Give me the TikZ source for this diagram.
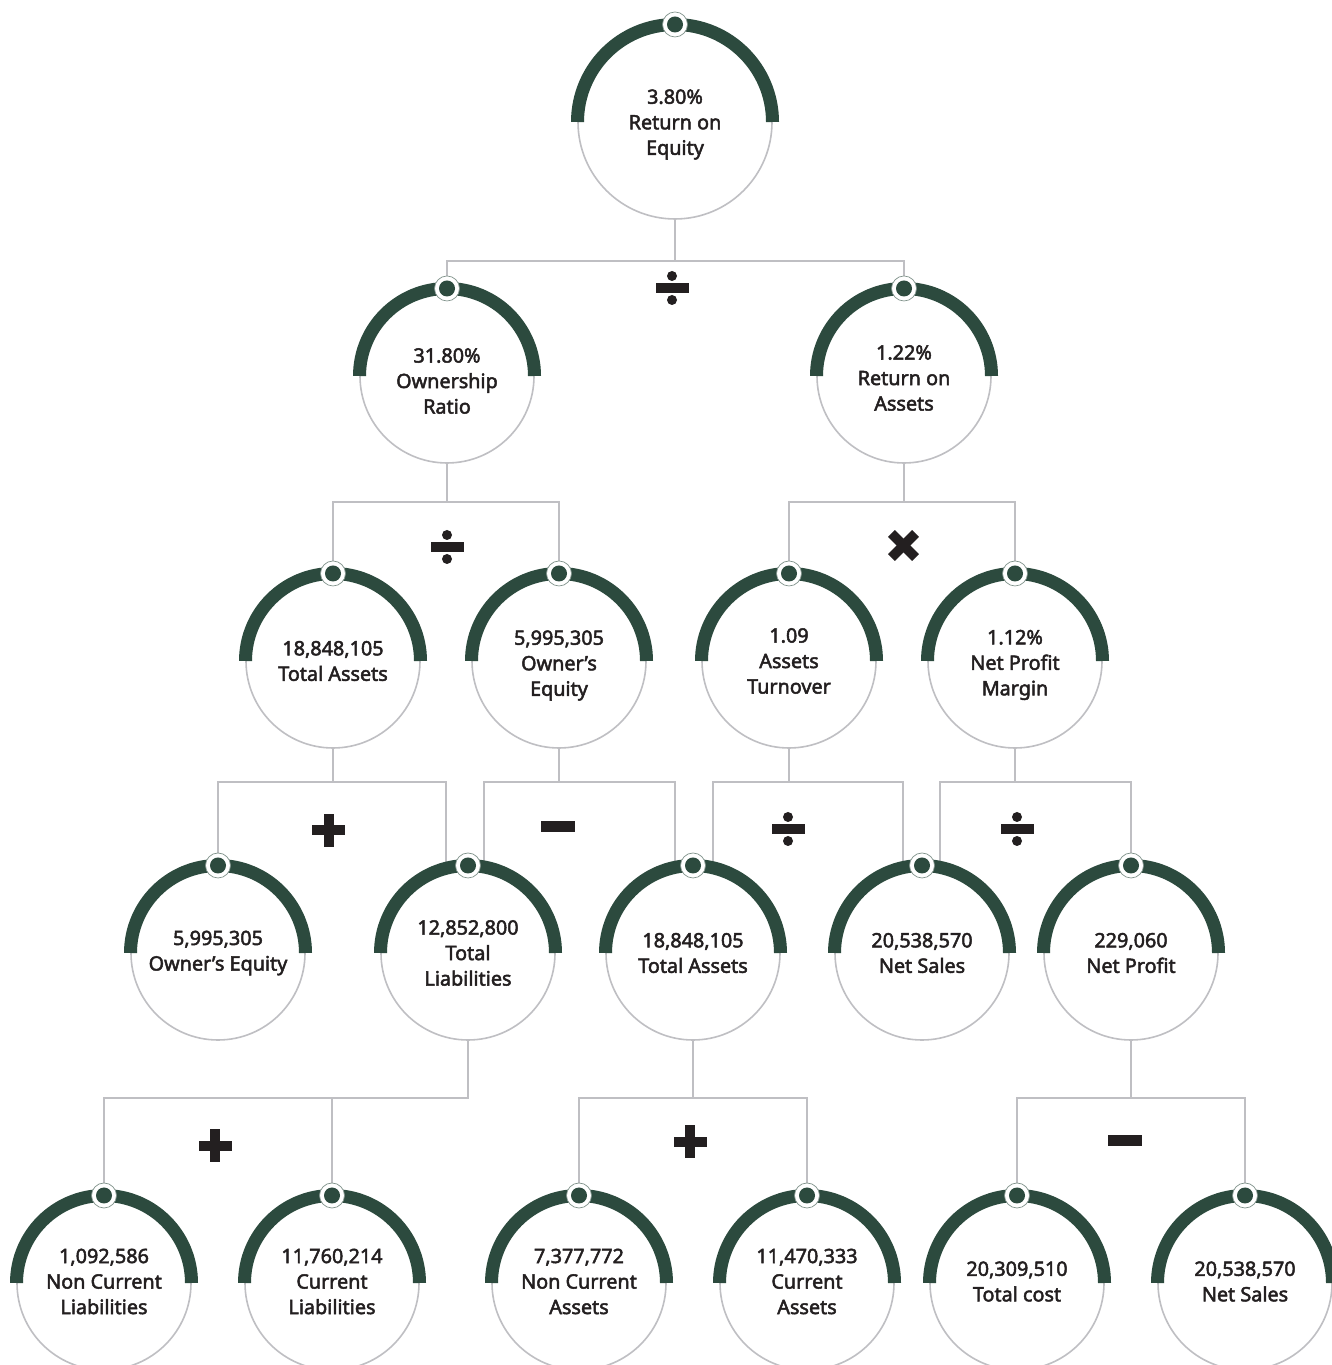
\documentclass[tikz,border=0pt]{standalone}
\usepackage{fontspec}
\newfontfamily\lbl{Noto Sans}[FakeBold=2.4]
\usetikzlibrary{backgrounds}
\pgfdeclarelayer{bg}
\pgfsetlayers{bg,background,main}
\definecolor{dgreen}{HTML}{2C4A3E}
\definecolor{lgray}{HTML}{BFBFC3}
\definecolor{txt}{HTML}{231F20}
\tikzset{
  kpinode/.style={circle, draw=lgray, line width=1.6pt, fill=white, inner sep=0pt},
  kpitext/.style={inner sep=0pt, align=center, text=txt, font=\lbl\fontsize{19.8}{25.5}\selectfont},
  arcsty/.style={draw=dgreen, line width=13pt},
  conn/.style={draw=lgray, line width=2pt},
  opfill/.style={fill=txt},
}
% name, x, y(image), radius, text, text offset (down, px)
\newcommand\kpi[6]{%
  \node[kpinode, minimum size=2*#4] (#1) at ({#2},{1365-#3}) {};
  \node[kpitext] (#1t) at ({#2},{1365-#3-#6}) {#5};
  \draw[arcsty] (#1.center) ++(180:{#4+0.5}) arc[start angle=180, end angle=0, radius={#4+0.5}];
  \filldraw[fill=white, draw=dgreen!60, line width=0.7pt] (#1.center) ++(0,{#4+0.5}) circle[radius=12.5];
  \fill[dgreen] (#1.center) ++(0,{#4+0.5}) circle[radius=8];
}
\newcommand\opdiv[2]{%
  \begin{scope}[shift={({#1},{1365-#2})}]
    \fill[opfill] (-16.5,-5) rectangle (16.5,5);
    \fill[opfill] (0,12) circle[radius=5];
    \fill[opfill] (0,-12) circle[radius=5];
  \end{scope}}
\newcommand\opminus[2]{%
  \begin{scope}[shift={({#1},{1365-#2})}]
    \fill[opfill] (-17,-5.5) rectangle (17,5.5);
  \end{scope}}
\newcommand\opplus[2]{%
  \begin{scope}[shift={({#1},{1365-#2})}]
    \fill[opfill] (-16.5,-5) rectangle (16.5,5);
    \fill[opfill] (-5,-16.5) rectangle (5,16.5);
  \end{scope}}
\newcommand\optimes[2]{%
  \begin{scope}[shift={({#1},{1365-#2})}, rotate=45]
    \fill[opfill] (-17,-4.8) rectangle (17,4.8);
    \fill[opfill] (-4.8,-17) rectangle (4.8,17);
  \end{scope}}
\begin{document}
\begin{tikzpicture}[x=1pt, y=1pt]
\useasboundingbox (0,0) rectangle (1332,1365);
\begin{pgfonlayer}{bg}
\fill[white] (0,0) rectangle (1332,1365);
\end{pgfonlayer}
% level 0
\kpi{roe}{675}{122}{97}{3.80\%\\Return on\\Equity}{2.5}
% level 1
\kpi{own}{447}{376}{87}{31.80\%\\Ownership\\Ratio}{5}
\kpi{roa}{904}{376}{87}{1.22\%\\Return on\\Assets}{2}
% level 2
\kpi{taA}{333}{661}{87}{18,848,105\\Total Assets}{0}
\kpi{oeA}{559}{661}{87}{5,995,305\\Owner’s\\Equity}{4.5}
\kpi{atA}{789}{661}{87}{1.09\\Assets\\Turnover}{0}
\kpi{npm}{1015}{661}{87}{1.12\%\\Net Profit\\Margin}{4}
% level 3
\kpi{oeB}{218}{953}{87}{5,995,305\\Owner’s Equity}{0}
\kpi{tlB}{468}{953}{87}{12,852,800\\Total\\Liabilities}{0}
\kpi{taB}{693}{953}{87}{18,848,105\\Total Assets}{0}
\kpi{nsB}{922}{953}{87}{20,538,570\\Net Sales}{0}
\kpi{npB}{1131}{953}{87}{229,060\\Net Profit}{0}
% level 4
\kpi{ncl}{104}{1283}{87}{1,092,586\\Non Current\\Liabilities}{-1.5}
\kpi{cl}{332}{1283}{87}{11,760,214\\Current\\Liabilities}{-1.5}
\kpi{nca}{579}{1283}{87}{7,377,772\\Non Current\\Assets}{-1.5}
\kpi{ca}{807}{1283}{87}{11,470,333\\Current\\Assets}{-1.5}
\kpi{tc}{1017}{1283}{87}{20,309,510\\Total cost}{-1.5}
\kpi{nsC}{1245}{1283}{87}{20,538,570\\Net Sales}{-1.5}
% connectors
\begin{pgfonlayer}{background}
\draw[conn] (roe.south) -- ++(0,-41) -| (own.north);
\draw[conn] (roe.south) -- ++(0,-41) -| (roa.north);
\draw[conn] (own.south) -- ++(0,-38) -| (taA.north);
\draw[conn] (own.south) -- ++(0,-38) -| (oeA.north);
\draw[conn] (roa.south) -- ++(0,-38) -| (atA.north);
\draw[conn] (roa.south) -- ++(0,-38) -| (npm.north);
\draw[conn] (taA.south) -- ++(0,-33) -| (oeB.north);
\draw[conn] (taA.south) -- ++(0,-33) -| ([xshift=-22pt]tlB.north);
\draw[conn] (oeA.south) -- ++(0,-33) -| ([xshift=16pt]tlB.north);
\draw[conn] (oeA.south) -- ++(0,-33) -| ([xshift=-18pt]taB.north);
\draw[conn] (atA.south) -- ++(0,-33) -| ([xshift=20pt]taB.north);
\draw[conn] (atA.south) -- ++(0,-33) -| ([xshift=-19pt]nsB.north);
\draw[conn] (npm.south) -- ++(0,-33) -| ([xshift=18pt]nsB.north);
\draw[conn] (npm.south) -- ++(0,-33) -| (npB.north);
\draw[conn] (tlB.south) -- ++(0,-57) -| (ncl.north);
\draw[conn] (tlB.south) -- ++(0,-57) -| (cl.north);
\draw[conn] (taB.south) -- ++(0,-57) -| (nca.north);
\draw[conn] (taB.south) -- ++(0,-57) -| (ca.north);
\draw[conn] (npB.south) -- ++(0,-57) -| (tc.north);
\draw[conn] (npB.south) -- ++(0,-57) -| (nsC.north);
\end{pgfonlayer}
% operators
\opdiv{672}{288}
\opdiv{447}{547}
\optimes{903.5}{545.5}
\opplus{328.5}{830.5}
\opminus{558}{826.5}
\opdiv{788}{829}
\opdiv{1017}{829}
\opplus{215}{1146}
\opplus{690}{1142}
\opminus{1125}{1140.5}
\end{tikzpicture}
\end{document}
